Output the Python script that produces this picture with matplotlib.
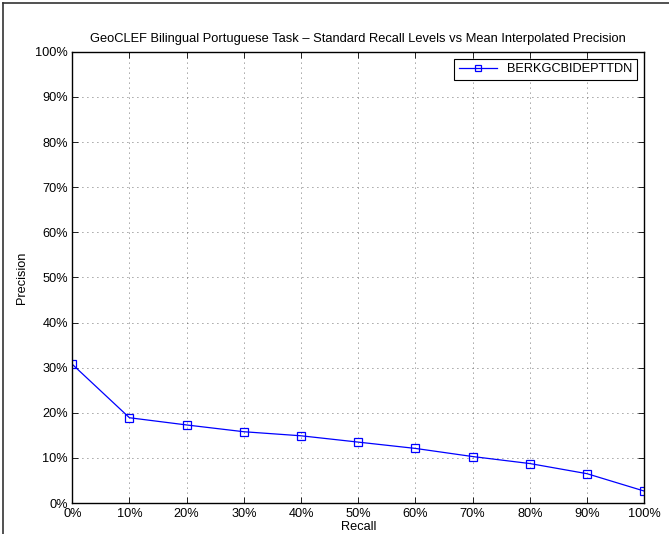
import matplotlib
matplotlib.use('Agg')
import matplotlib.pyplot as plt
from matplotlib.ticker import FuncFormatter
from matplotlib.lines import Line2D

recall = [0, 10, 20, 30, 40, 50, 60, 70, 80, 90, 100]
precision = [30.75, 18.9, 17.3, 15.8, 14.9, 13.5, 12.1, 10.3, 8.75, 6.5, 2.65]
series_name = 'BERKGCBIDEPTTDN'

plt.rcParams['font.family'] = ['Liberation Sans', 'DejaVu Sans']
plt.rcParams['font.size'] = 9.2

fig = plt.figure(figsize=(6.69, 5.34), dpi=100)
ax = fig.add_axes([0.108, 0.058, 0.855, 0.845])

ax.plot(recall, precision, color='blue', lw=0.9, marker='s', ms=6,
        mfc='none', mec='blue', mew=0.9, label=series_name)

ax.set_xlim(0, 100)
ax.set_ylim(0, 100)
ax.set_xticks(range(0, 101, 10))
ax.set_yticks(range(0, 101, 10))
pct = FuncFormatter(lambda v, p: '%d%%' % v)
ax.xaxis.set_major_formatter(pct)
ax.yaxis.set_major_formatter(pct)
ax.tick_params(direction='in', top=True, right=True, length=4, width=0.6)
ax.tick_params(axis='x', pad=3.5)
ax.tick_params(axis='y', pad=3)
ax.grid(True, linestyle=(0, (1, 5)), color='#444444', lw=0.6)
for s in ax.spines.values():
    s.set_linewidth(1.0)

ax.set_xlabel('Recall', labelpad=0.5)
ax.set_ylabel('Precision', labelpad=5)
ax.set_title('GeoCLEF Bilingual Portuguese Task \u2013 Standard Recall Levels vs Mean Interpolated Precision',
             fontsize=9.3, pad=7)

leg = ax.legend(loc='upper right', fancybox=False, edgecolor='black', framealpha=1,
                borderpad=0.35, handlelength=3.0, borderaxespad=0.55)
leg.get_frame().set_linewidth(0.8)
for h in leg.legend_handles:
    h.set_markersize(5)

# outer frame (top and left edges visible in the source image)
fig.add_artist(Line2D([0.005, 0.005], [0, 0.995], transform=fig.transFigure, color='#333333', lw=1.2))
fig.add_artist(Line2D([0.005, 1], [0.995, 0.995], transform=fig.transFigure, color='#333333', lw=1.2))

fig.savefig('out.png', dpi=100)
